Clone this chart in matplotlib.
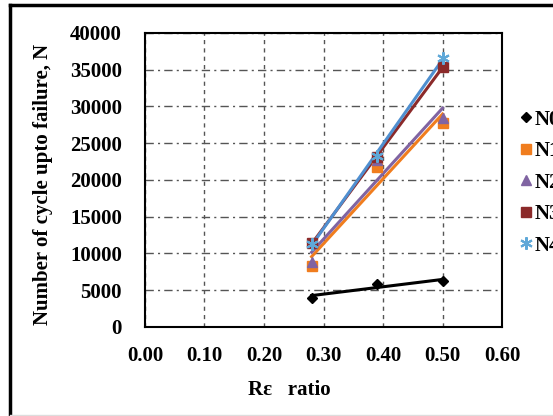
import matplotlib
matplotlib.use("Agg")
import matplotlib.pyplot as plt
import numpy as np
from matplotlib.lines import Line2D

# Data
ratio = [0.28, 0.39, 0.50]
N0 = [4000, 5900, 6200]
N1 = [8300, 21800, 27700]
N2 = [8800, 22700, 28400]
N3 = [11400, 23100, 35400]
N4 = [11300, 23300, 36600]

series = [
    ("N0", N0, "black", "D", 5.5),
    ("N1", N1, "#f07d1e", "s", 7.5),
    ("N2", N2, "#8064a2", "^", 7.5),
    ("N3", N3, "#8b2a2a", "s", 7.5),
    ("N4", N4, "#5fa8d8", (6, 2, 0), 9),
]
line_colors = ["black", "#f07d1e", "#8064a2", "#8b2a2a", "#4f8fd0"]

plt.rcParams["font.family"] = ["Liberation Serif", "DejaVu Serif"]
plt.rcParams["font.weight"] = "bold"

fig = plt.figure(figsize=(5.53, 4.16), dpi=100)
ax = fig.add_axes([0.262, 0.214, 0.646, 0.707])

x = np.array(ratio)
for (name, vals, color, marker, ms), lc in zip(series, line_colors):
    # markers at the data points, straight linear trend line through them
    ax.plot(x, vals, linestyle="none", marker=marker, color=color,
            markersize=ms, markeredgewidth=1.5 if name == "N4" else 1,
            label=name, zorder=3)
    k, b = np.polyfit(x, vals, 1)
    ax.plot(x[[0, -1]], k * x[[0, -1]] + b, color=lc, linewidth=2.2, zorder=2)

ax.set_xlim(0, 0.6)
ax.set_ylim(0, 40000)
ticks = np.arange(0, 0.61, 0.1)
ax.set_xticks(ticks)
ax.set_xticklabels([f"{v:.2f}" for v in ticks])
ax.set_yticks(range(0, 40001, 5000))
ax.tick_params(length=0, labelsize=15)
ax.tick_params(axis="y", pad=16.5)
ax.tick_params(axis="x", pad=14)
for lbl in ax.get_xticklabels() + ax.get_yticklabels():
    lbl.set_fontweight("bold")

ax.xaxis.grid(True, color="#555555", linestyle=(0, (3, 3)), linewidth=1)
ax.yaxis.grid(True, color="#555555", linestyle=(0, (6, 3, 1.5, 3)), linewidth=1)
ax.set_axisbelow(True)
for sp in ax.spines.values():
    sp.set_linewidth(1.5)

fig.text(43 / 553, 1 - 184 / 416, "Number of cycle upto failure, N", fontsize=15,
         fontweight="bold", rotation=90, ha="center", va="center")
fig.text(289 / 553, 1 - 390 / 416, "R\u03b5   ratio", fontsize=15,
         fontweight="bold", ha="center", va="center")

# legend runs up to the right edge, as in the source image
handles, labels = ax.get_legend_handles_labels()
fig.legend(handles, labels, loc="upper left", bbox_to_anchor=(501 / 553, 1 - 91 / 416),
           frameon=False, handlelength=0.6, handletextpad=0.1,
           labelspacing=0.55, prop={"weight": "bold", "size": 15})

# outer frame of the figure (left and top dark, bottom faint)
fig.add_artist(Line2D([10 / 553, 10 / 553], [0, 1 - 5 / 416],
                      transform=fig.transFigure, color="black", linewidth=2.5))
fig.add_artist(Line2D([10 / 553, 1], [1 - 5 / 416, 1 - 5 / 416],
                      transform=fig.transFigure, color="black", linewidth=2.5))
fig.add_artist(Line2D([10 / 553, 1], [1 / 416, 1 / 416],
                      transform=fig.transFigure, color="#dddddd", linewidth=1))

fig.savefig("out.png", dpi=100)
